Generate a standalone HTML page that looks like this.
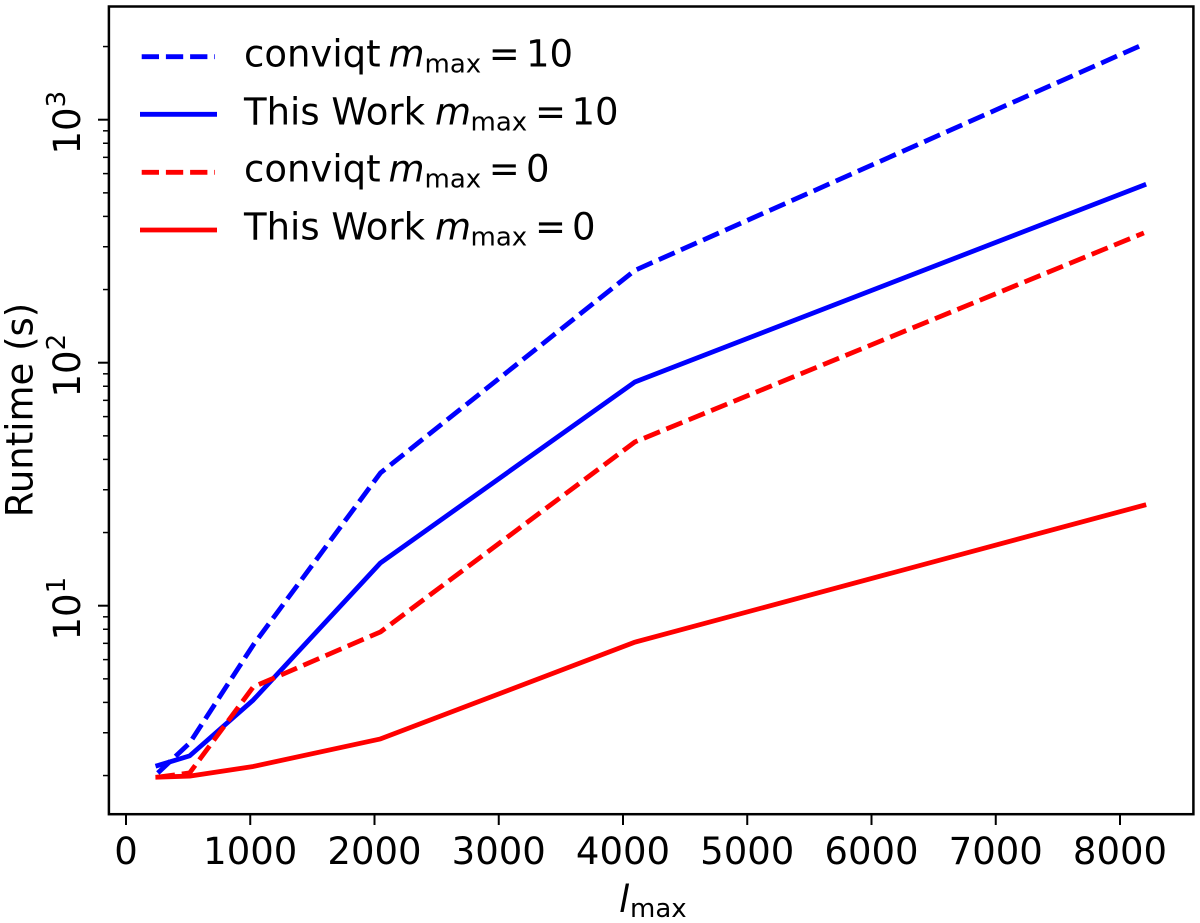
<!DOCTYPE html>
<html>
<head>
<meta charset="utf-8">
<style>
html,body{margin:0;padding:0;background:#fff;width:1200px;height:923px;overflow:hidden}
svg{display:block}
text{font-family:"DejaVu Sans","Liberation Sans",sans-serif;fill:#000}
</style>
</head>
<body>
<svg id="chart" xmlns="http://www.w3.org/2000/svg" width="1200" height="923" viewBox="0 0 1200 923">
  <g id="series"></g>
  <rect x="108.9" y="6.5" width="1084.5" height="807.7" fill="none" stroke="#000" stroke-width="2.5"/>
  <g id="xticks"></g>
  <g id="yticks"></g>
  <text x="619" y="912" font-size="37"><tspan font-style="italic">l</tspan><tspan font-size="26" x="630" dy="5">max</tspan></text>
  <text transform="translate(32.5,410) rotate(-90)" text-anchor="middle" font-size="37">Runtime (s)</text>
  <g>
    <line x1="141.7" y1="56.7" x2="215" y2="56.7" stroke="#0000ff" stroke-width="4.8" stroke-dasharray="17.3 6.9"/>
    <text x="244" y="66.7" font-size="37">conviqt<tspan font-style="italic" x="388.5">m</tspan><tspan font-size="26" x="424.5" dy="6">max</tspan><tspan x="488.7" dy="-6">=</tspan><tspan x="526">10</tspan></text>
    <line x1="140" y1="114.3" x2="217" y2="114.3" stroke="#0000ff" stroke-width="4.8"/>
    <text x="244" y="124.3" font-size="37">This Work<tspan font-style="italic" x="435">m</tspan><tspan font-size="26" x="470.5" dy="6">max</tspan><tspan x="535" dy="-6">=</tspan><tspan x="571.5">10</tspan></text>
    <line x1="141.7" y1="172.3" x2="215" y2="172.3" stroke="#ff0000" stroke-width="4.8" stroke-dasharray="17.3 6.9"/>
    <text x="244" y="181.7" font-size="37">conviqt<tspan font-style="italic" x="388.5">m</tspan><tspan font-size="26" x="424.5" dy="6">max</tspan><tspan x="488.7" dy="-6">=</tspan><tspan x="526">0</tspan></text>
    <line x1="140" y1="230" x2="217" y2="230" stroke="#ff0000" stroke-width="4.8"/>
    <text x="244" y="239.3" font-size="37">This Work<tspan font-style="italic" x="435">m</tspan><tspan font-size="26" x="470.5" dy="6">max</tspan><tspan x="535" dy="-6">=</tspan><tspan x="572">0</tspan></text>
  </g>
</svg>
<script>
const lmaxValues = [256, 512, 1024, 2048, 4096, 8192];
const conviqtM10 = [2.05, 2.72, 6.89, 35.2, 240, 2046];
const thisWorkM10 = [2.2, 2.41, 4.09, 15, 83.3, 538];
const conviqtM0 = [1.97, 2.05, 4.63, 7.8, 47.2, 342];
const thisWorkM0 = [1.97, 1.99, 2.18, 2.83, 7.08, 25.9];
const xTickValues = [0, 1000, 2000, 3000, 4000, 5000, 6000, 7000, 8000];
const yDecades = [1, 2, 3];
const yMinorDecades = [0, 1, 2, 3];
const yMinorFactors = [2, 3, 4, 5, 6, 7, 8, 9];

const NS = 'http://www.w3.org/2000/svg';
function xScale(v) { return 126 + v * 0.12425; }
function yScale(v) { return 848.7 - Math.log10(v) * 243; }
function make(tag, attrs) {
  const el = document.createElementNS(NS, tag);
  for (const k in attrs) el.setAttribute(k, attrs[k]);
  return el;
}

const seriesGroup = document.getElementById('series');
function drawSeries(values, color, dashed, name) {
  const pts = values.map((v, i) => xScale(lmaxValues[i]).toFixed(2) + ',' + yScale(v).toFixed(2)).join(' ');
  const line = make('polyline', {
    points: pts, fill: 'none', stroke: color, 'stroke-width': 4.8,
    'stroke-linejoin': 'round', 'stroke-linecap': dashed ? 'butt' : 'square'
  });
  if (dashed) line.setAttribute('stroke-dasharray', '17.3 6.9');
  
  
  seriesGroup.appendChild(line);
}
drawSeries(conviqtM10, '#0000ff', true, 'line-conviqt-m10');
drawSeries(thisWorkM10, '#0000ff', false, 'line-this-work-m10');
drawSeries(conviqtM0, '#ff0000', true, 'line-conviqt-m0');
drawSeries(thisWorkM0, '#ff0000', false, 'line-this-work-m0');

const xGroup = document.getElementById('xticks');
xTickValues.forEach(v => {
  const x = xScale(v);
  const tick = make('line', { x1: x, x2: x, y1: 814, y2: 825, stroke: '#000', 'stroke-width': 2 });
  
  
  xGroup.appendChild(tick);
  const label = make('text', { x: x, y: 864, 'text-anchor': 'middle', 'font-size': 37 });
  
  
  label.textContent = String(v);
  xGroup.appendChild(label);
});

const yGroup = document.getElementById('yticks');
yDecades.forEach(d => {
  const y = yScale(Math.pow(10, d));
  const tick = make('line', { x1: 98, x2: 108.9, y1: y, y2: y, stroke: '#000', 'stroke-width': 2 });
  
  
  yGroup.appendChild(tick);
  const label = make('text', {
    transform: 'translate(80,' + (y + 34.8) + ') rotate(-90)', 'font-size': 37
  });
  
  
  const base = make('tspan', {});
  base.textContent = '10';
  const sup = make('tspan', { 'font-size': 26, dy: -15 });
  sup.textContent = String(d);
  label.appendChild(base);
  label.appendChild(sup);
  yGroup.appendChild(label);
});
yMinorDecades.forEach(d => {
  yMinorFactors.forEach(f => {
    const value = f * Math.pow(10, d);
    const y = yScale(value);
    if (y < 7 || y > 814) return;
    const tick = make('line', { x1: 103, x2: 108.9, y1: y, y2: y, stroke: '#000', 'stroke-width': 1.5 });
    
    
    yGroup.appendChild(tick);
  });
});
</script>
</body>
</html>
